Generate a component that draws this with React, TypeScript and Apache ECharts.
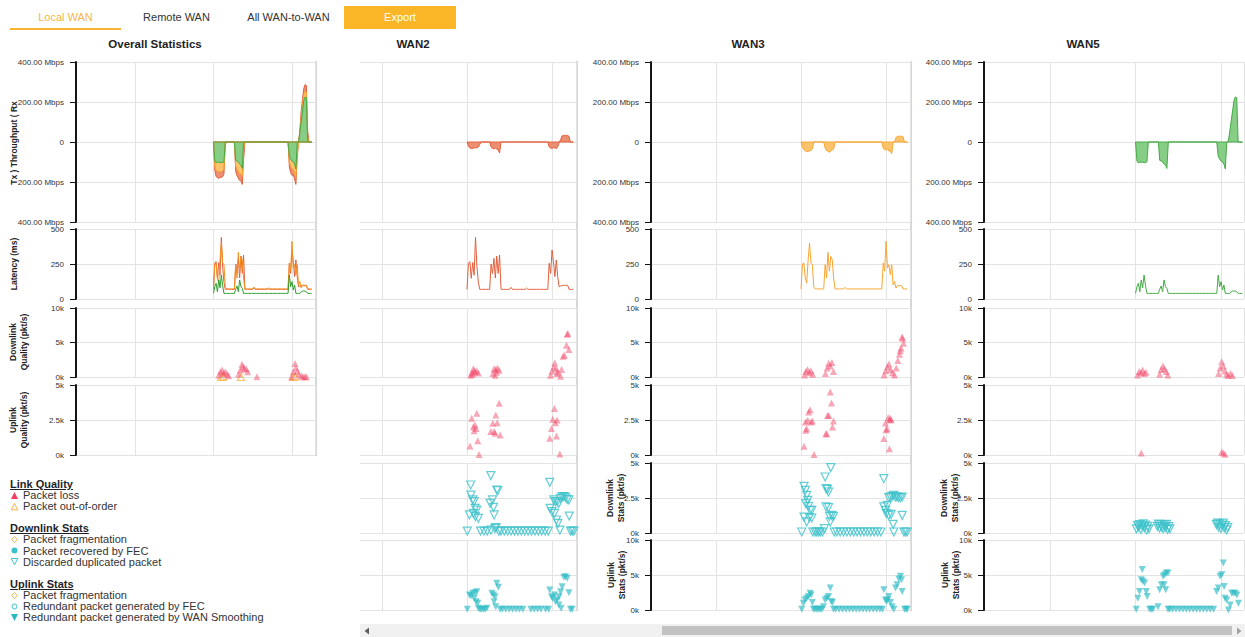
import React, { useEffect, useRef } from "react";
import * as echarts from "echarts";

const FONT = "'Liberation Sans', Arial, sans-serif";

// ---------- time axis (minutes) ----------
const minutes = [
  120, 121, 122, 123, 124, 125, 126, 127, 128, 129,
  130, 131, 132, 133, 134, 135, 136, 137, 138, 139,
  140, 141, 142, 143, 144, 145, 146, 147, 148, 149,
  150, 151, 152, 153, 154, 155, 156, 157, 158, 159,
  160, 161, 162, 163, 164, 165, 166, 167, 168, 169,
  170, 171, 172, 173, 174, 175, 176, 177, 178, 179,
  180, 181, 182, 183, 184, 185, 186, 187, 188, 189,
  190, 191, 192, 193, 194, 195,
];

// ---------- throughput (Mbps), Tx negative, Rx positive ----------
const wan2Tx = [
  0, -20, -30, -33, -32, -30, -28, -30, -25, -12,
  0, 0, 0, 0, 0, 0, 0, -25, -32, -35,
  -30, -35, -40, -55, 0, 0, 0, 0, 0, 0,
  0, 0, 0, 0, 0, 0, 0, 0, 0, 0,
  0, 0, 0, 0, 0, 0, 0, 0, 0, 0,
  0, 0, 0, 0, 0, 0, 0, 0, -25, -30,
  -32, -28, -30, -32, -25, 0, 0, 0, 0, 0,
  0, 0, 0, 0, 0, 0,
];
const wan2Rx = [
  0, 0, 0, 0, 0, 0, 0, 0, 0, 0,
  0, 0, 0, 0, 0, 0, 0, 0, 0, 0,
  0, 0, 0, 0, 0, 0, 0, 0, 0, 0,
  0, 0, 0, 0, 0, 0, 0, 0, 0, 0,
  0, 0, 0, 0, 0, 0, 0, 0, 0, 0,
  0, 0, 0, 0, 0, 0, 0, 0, 0, 0,
  0, 0, 0, 0, 0, 0, 10, 30, 33, 33,
  33, 32, 28, 0, 0, 0,
];
const wan3Tx = [
  0, -25, -38, -44, -48, -46, -45, -42, -35, 0,
  0, 0, 0, 0, 0, 0, 0, -30, -42, -45,
  -52, -44, -40, -35, 0, 0, 0, 0, 0, 0,
  0, 0, 0, 0, 0, 0, 0, 0, 0, 0,
  0, 0, 0, 0, 0, 0, 0, 0, 0, 0,
  0, 0, 0, 0, 0, 0, 0, 0, -30, -38,
  -40, -35, -45, -45, -58, 0, 0, 0, 0, 0,
  0, 0, 0, 0, 0, 0,
];
const wan3Rx = [
  0, 0, 0, 0, 0, 0, 0, 0, 0, 0,
  0, 0, 0, 0, 0, 0, 0, 0, 0, 0,
  0, 0, 0, 0, 0, 0, 0, 0, 0, 0,
  0, 0, 0, 0, 0, 0, 0, 0, 0, 0,
  0, 0, 0, 0, 0, 0, 0, 0, 0, 0,
  0, 0, 0, 0, 0, 0, 0, 0, 0, 0,
  0, 0, 0, 0, 0, 0, 0, 22, 28, 29,
  29, 28, 26, 0, 0, 0,
];
const wan5Tx = [
  0, -95, -105, -100, -103, -100, -104, -102, -100, 0,
  0, 0, 0, 0, 0, 0, 0, -92, -95, -100,
  -110, -115, -132, 0, 0, 0, 0, 0, 0, 0,
  0, 0, 0, 0, 0, 0, 0, 0, 0, 0,
  0, 0, 0, 0, 0, 0, 0, 0, 0, 0,
  0, 0, 0, 0, 0, 0, 0, 0, -70, -85,
  -95, -100, -110, -135, 0, 0, 0, 0, 0, 0,
  0, 0, 0, 0, 0, 0,
];
const wan5Rx = [
  0, 0, 0, 0, 0, 0, 0, 0, 0, 0,
  0, 0, 0, 0, 0, 0, 0, 0, 0, 0,
  0, 0, 0, 0, 0, 0, 0, 0, 0, 0,
  0, 0, 0, 0, 0, 0, 0, 0, 0, 0,
  0, 0, 0, 0, 0, 0, 0, 0, 0, 0,
  0, 0, 0, 0, 0, 0, 0, 0, 0, 0,
  0, 0, 0, 0, 0, 0, 45, 100, 150, 205,
  225, 222, 0, 0, 0, 0,
];

// ---------- latency (ms) ----------
const wan2Latency = [
  69, 255, 267, 148, 260, 170, 440, 231, 120, 69,
  69, 69, 69, 69, 69, 69, 69, 250, 183, 290,
  150, 307, 183, 314, 69, 69, 69, 69, 69, 69,
  69, 83, 69, 69, 69, 69, 69, 69, 69, 69,
  69, 69, 78, 69, 69, 69, 69, 69, 69, 69,
  69, 69, 69, 69, 69, 69, 69, 69, 255, 183,
  350, 267, 160, 279, 160, 88, 93, 95, 98, 98,
  98, 98, 69, 69, 69, 69,
];
const wan3Latency = [
  72, 250, 257, 150, 114, 280, 400, 257, 245, 85,
  72, 72, 72, 72, 72, 72, 72, 245, 150, 333,
  198, 305, 281, 150, 72, 72, 72, 72, 72, 72,
  72, 83, 72, 72, 72, 72, 72, 72, 72, 72,
  72, 72, 72, 72, 72, 72, 72, 72, 72, 72,
  72, 72, 72, 72, 72, 72, 72, 72, 257, 198,
  412, 221, 245, 174, 245, 100, 126, 78, 95, 95,
  95, 95, 72, 72, 72, 72,
];
const wan5Latency = [
  40, 88, 112, 52, 136, 80, 171, 95, 40, 40,
  40, 40, 40, 40, 40, 40, 40, 70, 93, 52,
  136, 88, 76, 40, 40, 40, 40, 40, 40, 40,
  40, 40, 40, 40, 40, 40, 40, 40, 40, 40,
  40, 40, 40, 40, 40, 40, 40, 40, 40, 40,
  40, 40, 40, 40, 40, 40, 40, 40, 171, 88,
  124, 64, 100, 40, 40, 40, 40, 50, 57, 57,
  57, 52, 40, 40, 40, 40,
];

// ---------- overall link quality (pkt/s) ----------
const overallDownLoss = [
  [124.1, 290], [125.3, 770], [126.6, 1010], [127.8, 530], [129.1, 770], [130.4, 390], [131.6, 190],
  [139.2, 390], [140.5, 1010], [141.8, 1830], [142.5, 1490], [143.5, 1250], [145.1, 1150], [146.1, 770],
  [153.2, 50], [179.7, 50], [181.0, 770], [182.3, 1970], [183.0, 1350], [184.1, 870], [185.3, 390],
  [187.3, 190], [188.6, 50], [189.9, 50], [191.1, 20],
];
const overallDownOutOfOrder = [[125.8, 0], [127.5, 40], [141.0, 0], [181.0, 0], [182.5, 40]];

// ---------- WAN2 ----------
const wan2DownLoss = [
  [122.6, 240], [123.3, 580], [124.0, 400], [124.5, 1210], [125.0, 900], [125.7, 730], [126.9, 870], [128.0, 580],
  [138.2, 490], [139.1, 1210], [139.9, 240], [140.3, 1070], [140.8, 700], [141.5, 1310], [142.7, 970],
  [178.9, 240], [180.0, 870], [181.2, 1460], [181.9, 2040], [182.9, 1210], [183.5, 500], [184.1, 730],
  [186.0, 100], [186.7, 1070], [187.8, 3010], [188.8, 3160], [190.2, 4610], [190.7, 6210], [191.2, 6310], [191.9, 3980],
];
const wan2UpLoss = [
  [122.1, 640], [123.3, 2620], [124.5, 2020], [125.0, 1740], [125.7, 2140], [126.4, 1900], [126.9, 2980], [127.6, 1020], [128.5, 30],
  [136.8, 1670], [138.2, 2260], [139.1, 1670], [139.9, 1550], [140.3, 2860], [141.3, 2310], [142.7, 3690], [143.4, 1430],
  [178.4, 1190], [179.6, 1900], [180.5, 2550], [181.7, 3330], [182.4, 2310], [183.1, 1360], [183.6, 2500], [185.5, 70],
];
const wan2DownDuplicate = [
  [120.2, 140], [121.7, 1290], [122.6, 3430], [122.8, 2710], [124.0, 2360], [124.5, 1400], [125.0, 2240], [125.7, 1760],
  [125.9, 1170], [126.9, 1640], [128.0, 1050], [129.5, 140], [131.9, 140], [134.3, 140],
  [136.3, 2120], [136.8, 4100], [136.9, 200], [138.0, 2360], [138.7, 1830], [139.1, 1290], [139.6, 330], [140.5, 380],
  [141.0, 3070], [141.7, 3020], [142.5, 140],
  [143.9, 140], [146.3, 140], [148.7, 140], [151.1, 140], [153.5, 140], [155.9, 140], [158.3, 140], [160.7, 140],
  [163.1, 140], [165.5, 140], [167.9, 140], [170.3, 140], [172.7, 140], [175.1, 140], [177.3, 140],
  [178.4, 3620], [178.6, 1760], [180.0, 1520], [181.2, 2360], [181.7, 1400], [182.4, 2240], [183.1, 930], [183.6, 2240],
  [184.1, 690], [184.8, 2120], [185.5, 210], [186.0, 2480], [187.1, 2600], [188.3, 2600], [189.5, 2550], [190.7, 2400],
  [191.9, 2360], [192.1, 1210], [193.0, 140], [194.2, 140], [195.4, 140],
];
const wan2UpSmoothing = [
  [120.2, 100], [121.7, 2140], [122.8, 2000], [124.0, 2380], [125.0, 1670], [125.7, 2480], [126.4, 1190], [126.9, 2620],
  [127.6, 950], [128.0, 240], [129.2, 100], [130.4, 100], [131.6, 100], [132.8, 100], [134.0, 240],
  [137.5, 2380], [138.7, 2140], [139.1, 1190], [139.9, 1900], [140.3, 480], [141.0, 3810], [142.2, 3240], [143.4, 100],
  [145.0, 100], [147.4, 100], [149.8, 100], [152.2, 100], [154.6, 100], [157.0, 100], [159.4, 100],
  [165.0, 100], [167.4, 100], [169.8, 100], [172.2, 100], [175.4, 100], [177.6, 100],
  [178.4, 2860], [179.6, 1900], [180.5, 1670], [181.7, 2140], [182.4, 1190], [183.6, 1430], [184.8, 710], [185.0, 1900],
  [186.0, 2620], [186.4, 240], [187.1, 3330], [188.3, 4670], [189.5, 4760], [190.7, 4520], [191.9, 2480], [193.0, 100], [194.2, 100],
];

// ---------- WAN3 ----------
const wan3DownLoss = [
  [122.5, 300], [123.4, 800], [124.6, 1100], [125.8, 600], [127.0, 900], [128.2, 400],
  [137.2, 500], [138.4, 1300], [139.5, 2000], [140.6, 1600], [141.8, 2100], [142.9, 800],
  [178.6, 300], [179.8, 900], [181.0, 1500], [182.1, 1900], [183.2, 1100], [184.5, 600],
  [186.0, 300], [187.2, 1300], [188.3, 2400], [189.5, 3300], [190.0, 3800], [190.6, 4200], [191.2, 5800], [191.8, 5600], [192.3, 4900],
];
const wan3UpLoss = [
  [122.1, 620], [123.1, 2360], [123.3, 1760], [124.0, 1880], [124.7, 2480], [125.4, 3070], [126.4, 3240], [127.1, 2360], [128.0, 2430], [129.2, 30],
  [137.5, 1520], [138.2, 1520], [138.7, 2830], [139.6, 2830], [140.6, 4500], [141.5, 3710], [142.2, 2000], [142.9, 2430],
  [178.4, 1170], [179.6, 2290], [180.0, 1810], [180.8, 1880], [181.5, 2670], [182.4, 2520], [183.1, 2600], [183.6, 2520], [182.4, 450],
];
const wan3DownDuplicate = [
  [120.5, 70], [122.1, 3330], [123.1, 3050], [124.0, 2690], [124.7, 2330], [123.3, 2100], [125.2, 1900], [126.4, 1620],
  [127.6, 1620], [122.1, 1140], [125.9, 1100], [124.0, 790], [127.6, 1070], [128.3, 70], [129.9, 70], [131.1, 70],
  [132.5, 70], [133.5, 70], [135.1, 70], [136.5, 310], [137.0, 4000], [141.0, 4670], [137.7, 3170], [138.7, 3120],
  [139.4, 2930], [137.7, 1860], [139.4, 1810], [140.1, 1190], [141.7, 1260], [142.9, 1190], [140.6, 790], [143.4, 70],
  [145.2, 70], [147.6, 70], [150.0, 70], [152.4, 70], [154.8, 70], [157.2, 70], [159.6, 70], [162.0, 70],
  [164.4, 70], [166.8, 70], [169.2, 70], [171.6, 70], [174.0, 70], [176.4, 70],
  [178.4, 3880], [178.4, 1860], [179.6, 1620], [180.3, 1380], [180.8, 1980], [181.9, 2520], [181.9, 1260], [183.1, 2570],
  [183.6, 1330], [184.3, 2620], [185.0, 620], [185.5, 70], [185.5, 2690], [186.7, 2570], [187.8, 2570], [189.0, 2520],
  [190.2, 2520], [191.4, 2570], [191.4, 1260], [192.6, 70], [193.8, 70], [194.9, 70],
];
const wan3UpSmoothing = [
  [120.5, 100], [121.7, 960], [122.8, 1440], [124.0, 1680], [125.2, 1920], [126.4, 2400], [127.1, 2160], [128.0, 1060],
  [128.7, 100], [129.9, 100], [131.1, 100], [132.3, 100], [133.5, 100], [134.7, 100], [135.8, 480], [137.0, 1440],
  [138.2, 1680], [139.4, 1920], [140.6, 3130], [141.3, 1200], [142.2, 1060], [142.9, 100],
  [144.5, 100], [146.9, 100], [149.3, 100], [151.7, 100], [154.1, 100], [156.5, 100], [158.9, 100], [161.3, 100],
  [163.7, 100], [166.1, 100], [168.5, 100], [170.9, 100], [173.3, 100], [175.7, 100], [177.5, 100],
  [178.4, 2880], [179.6, 1440], [180.3, 1200], [181.2, 1440], [181.9, 1920], [183.1, 1060], [184.3, 480], [185.5, 100],
  [186.7, 3130], [187.8, 3610], [189.0, 4420], [190.2, 4810], [190.9, 4330], [191.4, 2640], [193.0, 100], [194.2, 100], [194.9, 100],
];

// ---------- WAN5 ----------
const wan5DownLoss = [
  [121.5, 300], [122.6, 800], [123.8, 600], [125.0, 1000], [126.2, 500], [127.4, 700],
  [136.9, 400], [138.0, 1100], [139.2, 1600], [140.3, 1200], [141.5, 800], [142.6, 300],
  [178.3, 500], [179.4, 1300], [180.5, 2200], [181.6, 1600], [182.7, 900], [183.8, 400], [185.0, 200], [186.6, 500], [188.0, 200],
];
const wan5UpLoss = [[124.0, 140], [180.5, 210], [181.6, 140], [182.8, 50]];
const wan5DownDuplicate = [
  [120.6, 300], [121.4, 550], [122.2, 420], [123.0, 600], [123.8, 250], [124.6, 500], [125.4, 650], [126.2, 380],
  [127.0, 560], [127.8, 220], [128.6, 470], [129.4, 300], [135.3, 480], [136.1, 640], [136.9, 350], [137.7, 600],
  [138.5, 450], [139.3, 300], [140.1, 560], [140.9, 400], [141.7, 620], [142.5, 260], [143.3, 450], [144.1, 300],
  [176.7, 600], [177.5, 700], [178.3, 420], [179.1, 650], [179.9, 320], [180.7, 560], [181.5, 700], [182.3, 360],
  [183.1, 520], [183.9, 220], [184.7, 400],
];
const wan5UpSmoothing = [
  [120.5, 100], [121.6, 1680], [122.8, 2640], [124.0, 4330], [124.7, 5770], [125.2, 4090], [126.4, 3850], [127.5, 2640],
  [128.2, 1920], [129.9, 100], [131.1, 100], [132.2, 100], [135.8, 480], [136.9, 2890], [138.1, 3610], [139.3, 4810],
  [140.5, 5050], [141.6, 5290], [142.8, 5290], [141.2, 2890], [140.0, 3610], [142.8, 100], [144.0, 100],
  [146.0, 100], [148.4, 100], [150.8, 100], [153.2, 100], [155.6, 100], [158.0, 100], [160.4, 100], [162.8, 100],
  [165.2, 100], [167.6, 100], [170.0, 100], [172.4, 100], [174.8, 100],
  [176.9, 2640], [178.1, 3130], [179.3, 4810], [180.5, 5050], [181.6, 6730], [182.1, 3370], [182.8, 1680], [184.0, 1440],
  [185.2, 0], [186.4, 720], [187.5, 2400], [188.7, 2400], [189.9, 2400], [191.1, 2160], [192.2, 960],
];

// ---------- text ----------
const columnTitles = ["Overall Statistics", "WAN2", "WAN3", "WAN5"];
const tabs = ["Local WAN", "Remote WAN", "All WAN-to-WAN"];

// ---------- styles / layout ----------
const WAN_COLORS = {
  wan2: { line: "#e25f3c", fill: "#ec8e72" },
  wan3: { line: "#f8a632", fill: "#fbc46c" },
  wan5: { line: "#46aa46", fill: "#86cd86" },
};
const LOSS_COLOR = "rgba(240,72,104,0.6)";
const OOO_COLOR = "#f9b24c";
const CYAN = "#3dc2cb";
const GRID_COLOR = "#e3e3e3";

const ROWS = [
  { top: 62, bottom: 222 },
  { top: 229, bottom: 299 },
  { top: 308, bottom: 377 },
  { top: 385, bottom: 455 },
  { top: 463, bottom: 533 },
  { top: 540, bottom: 610 },
];
const kFmt = (v: number) => v / 1000 + "k";
const Y_AXES = [
  { min: -400, max: 400, interval: 200, fmt: (v: number) => (v === 0 ? "0" : Math.abs(v).toFixed(2) + " Mbps") },
  { min: 0, max: 500, interval: 250, fmt: (v: number) => String(v) },
  { min: 0, max: 10000, interval: 5000, fmt: kFmt },
  { min: 0, max: 5000, interval: 2500, fmt: kFmt },
  { min: 0, max: 5000, interval: 2500, fmt: kFmt },
  { min: 0, max: 10000, interval: 5000, fmt: kFmt },
];
const COLS = [
  { left: 76, right: 315, xMin: 14.9, xMax: 197.6, rows: 4, axis: true },
  { left: 360, right: 576, xMin: 44.5, xMax: 196.9, rows: 6, axis: false },
  { left: 651, right: 910, xMin: 14.1, xMax: 196.9, rows: 6, axis: true },
  { left: 984, right: 1244, xMin: 13.7, xMax: 196.1, rows: 6, axis: true },
];

// element-wise sum of several series (cumulative totals for the overall panel)
const sumOf = (...arrs: number[][]) => arrs[0].map((_, i) => arrs.reduce((s, a) => s + a[i], 0));

function buildOption() {
  const grid: any[] = [];
  const xAxis: any[] = [];
  const yAxis: any[] = [];
  const series: any[] = [];
  const idx: Record<string, number> = {};

  COLS.forEach((col, ci) => {
    for (let r = 0; r < col.rows; r++) {
      const row = ROWS[r];
      const gi = grid.length;
      idx[ci + "-" + r] = gi;
      grid.push({
        left: col.left, top: row.top, width: col.right - col.left, height: row.bottom - row.top,
        containLabel: false, outerBoundsMode: "none",
      });
      xAxis.push({
        gridIndex: gi, type: "value", min: col.xMin, max: col.xMax, minInterval: 60, maxInterval: 60,
        axisLine: { show: false }, axisTick: { show: false }, axisLabel: { show: false },
        splitLine: { show: true, showMinLine: col.axis, lineStyle: { color: GRID_COLOR, width: 1 } },
      });
      const ya = Y_AXES[r];
      yAxis.push({
        gridIndex: gi, type: "value", min: ya.min, max: ya.max, interval: ya.interval,
        axisLine: { show: col.axis, lineStyle: { color: "#151515", width: 2 } },
        axisTick: { show: col.axis, length: 6, lineStyle: { color: "#151515", width: 1 } },
        axisLabel: { show: col.axis, formatter: ya.fmt, margin: 12, fontSize: 8, color: "#333", fontFamily: FONT },
        splitLine: { show: true, lineStyle: { color: GRID_COLOR, width: 1 } },
      });
    }
  });

  const add = (ci: number, r: number, s: any) => {
    const gi = idx[ci + "-" + r];
    series.push({ silent: true, ...s, xAxisIndex: gi, yAxisIndex: gi });
  };
  const lineData = (vals: number[]) => minutes.map((m, i) => [m, vals[i]]);
  const area = (vals: number[], c: { line: string; fill: string }) => ({
    type: "line", data: lineData(vals), showSymbol: false,
    lineStyle: { color: c.line, width: 1 }, itemStyle: { color: c.line },
    areaStyle: { color: c.fill, opacity: 1 },
  });
  const line = (vals: number[], color: string) => ({
    type: "line", data: lineData(vals), showSymbol: false,
    lineStyle: { color, width: 1 }, itemStyle: { color },
  });
  const lossScatter = (data: number[][]) => ({
    type: "scatter", data, symbol: "triangle", symbolSize: 7, itemStyle: { color: LOSS_COLOR },
  });
  const oooScatter = (data: number[][]) => ({
    type: "scatter", data, symbol: "triangle", symbolSize: 7,
    itemStyle: { color: "rgba(255,255,255,0)", borderColor: OOO_COLOR, borderWidth: 1.2 },
  });
  const dupScatter = (data: number[][]) => ({
    type: "scatter", data, symbol: "triangle", symbolRotate: 180, symbolSize: 8,
    itemStyle: { color: "rgba(255,255,255,0)", borderColor: CYAN, borderWidth: 1.2 },
  });
  const smoothScatter = (data: number[][]) => ({
    type: "scatter", data, symbol: "triangle", symbolRotate: 180, symbolSize: 7,
    itemStyle: { color: "rgba(50,188,198,0.85)" },
  });

  // Overall column: stacked totals drawn as layered areas (largest total first)
  add(0, 0, area(sumOf(wan5Tx, wan3Tx, wan2Tx), WAN_COLORS.wan2));
  add(0, 0, area(sumOf(wan5Tx, wan3Tx), WAN_COLORS.wan3));
  add(0, 0, area(wan5Tx, WAN_COLORS.wan5));
  add(0, 0, area(sumOf(wan5Rx, wan3Rx, wan2Rx), WAN_COLORS.wan2));
  add(0, 0, area(sumOf(wan5Rx, wan3Rx), WAN_COLORS.wan3));
  add(0, 0, area(wan5Rx, WAN_COLORS.wan5));
  add(0, 1, line(wan2Latency, WAN_COLORS.wan2.line));
  add(0, 1, line(wan3Latency, "#f59120"));
  add(0, 1, line(wan5Latency, "#2f9e2f"));
  add(0, 2, oooScatter(overallDownOutOfOrder));
  add(0, 2, lossScatter(overallDownLoss));

  const wans = [
    { c: WAN_COLORS.wan2, tx: wan2Tx, rx: wan2Rx, lat: wan2Latency, dq: wan2DownLoss, uq: wan2UpLoss, ds: wan2DownDuplicate, us: wan2UpSmoothing },
    { c: WAN_COLORS.wan3, tx: wan3Tx, rx: wan3Rx, lat: wan3Latency, dq: wan3DownLoss, uq: wan3UpLoss, ds: wan3DownDuplicate, us: wan3UpSmoothing },
    { c: WAN_COLORS.wan5, tx: wan5Tx, rx: wan5Rx, lat: wan5Latency, dq: wan5DownLoss, uq: wan5UpLoss, ds: wan5DownDuplicate, us: wan5UpSmoothing },
  ];
  wans.forEach((w, k) => {
    const ci = k + 1;
    add(ci, 0, area(w.tx, w.c));
    add(ci, 0, area(w.rx, w.c));
    add(ci, 1, line(w.lat, w.c.line));
    add(ci, 2, lossScatter(w.dq));
    add(ci, 3, lossScatter(w.uq));
    add(ci, 4, dupScatter(w.ds));
    add(ci, 5, smoothScatter(w.us));
  });

  // graphic: titles, axis names, right borders
  const titleX = [155, 413, 748, 1083];
  const elements: any[] = [];
  columnTitles.forEach((t, i) => {
    elements.push({
      type: "text", x: titleX[i], y: 44, silent: true,
      style: { text: t, fill: "#1e1e1e", font: "bold 11.5px " + FONT, align: "center", verticalAlign: "middle" },
    });
  });
  const names = [
    { text: "Tx ) Throughput ( Rx", x: 13.5, y: 143 },
    { text: "Latency (ms)", x: 14, y: 264 },
    { text: "Downlink\nQuality (pkt/s)", x: 18.5, y: 342 },
    { text: "Uplink\nQuality (pkt/s)", x: 18.5, y: 420 },
    { text: "Downlink\nStats (pkt/s)", x: 615, y: 498 },
    { text: "Uplink\nStats (pkt/s)", x: 616, y: 575 },
    { text: "Downlink\nStats (pkt/s)", x: 949, y: 498 },
    { text: "Uplink\nStats (pkt/s)", x: 950, y: 575 },
  ];
  names.forEach((n) => {
    elements.push({
      type: "text", x: n.x, y: n.y, rotation: Math.PI / 2, silent: true,
      style: { text: n.text, fill: "#222", font: "bold 8.5px " + FONT, align: "center", verticalAlign: "middle", lineHeight: 11 },
    });
  });
  const borders = [
    { x: 315, y1: 61, y2: 456 },
    { x: 576, y1: 61, y2: 611 },
    { x: 910, y1: 61, y2: 611 },
  ];
  borders.forEach((b) => {
    elements.push({ type: "rect", silent: true, shape: { x: b.x, y: b.y1, width: 2, height: b.y2 - b.y1 }, style: { fill: "#d7d7d7" } });
  });

  return { animation: false, grid, xAxis, yAxis, series, graphic: { elements } };
}

function Icon({ kind }: { kind: string }) {
  const common = { width: 9, height: 9, style: { display: "inline-block", verticalAlign: "middle", marginRight: 4, marginTop: -2 } as any };
  if (kind === "lossUp") return <svg {...common}><polygon points="4.5,1 8,8 1,8" fill="#ef3f63" /></svg>;
  if (kind === "oooUp") return <svg {...common}><polygon points="4.5,1.5 7.8,7.8 1.2,7.8" fill="none" stroke="#f9b24c" strokeWidth="1" /></svg>;
  if (kind === "diamond") return <svg {...common}><polygon points="4.5,1.5 7.5,4.5 4.5,7.5 1.5,4.5" fill="none" stroke="#f9b24c" strokeWidth="1" /></svg>;
  if (kind === "dot") return <svg {...common}><circle cx="4.5" cy="4.5" r="3" fill={CYAN} /></svg>;
  if (kind === "dupDown") return <svg {...common}><polygon points="1.2,1.5 7.8,1.5 4.5,7.8" fill="none" stroke={CYAN} strokeWidth="1" /></svg>;
  if (kind === "ring") return <svg {...common}><circle cx="4.5" cy="4.5" r="2.5" fill="none" stroke={CYAN} strokeWidth="1" /></svg>;
  return <svg {...common}><polygon points="1,1 8,1 4.5,8" fill="#2bb7c2" /></svg>;
}

const legendGroups = [
  { title: "Link Quality", items: [["lossUp", "Packet loss"], ["oooUp", "Packet out-of-order"]] },
  { title: "Downlink Stats", items: [["diamond", "Packet fragmentation"], ["dot", "Packet recovered by FEC"], ["dupDown", "Discarded duplicated packet"]] },
  { title: "Uplink Stats", items: [["diamond", "Packet fragmentation"], ["ring", "Redundant packet generated by FEC"], ["smoothDown", "Redundant packet generated by WAN Smoothing"]] },
];

export default function App() {
  const ref = useRef<HTMLDivElement>(null);
  useEffect(() => {
    if (!ref.current) return;
    const chart = echarts.init(ref.current, undefined, { renderer: "svg" });
    chart.setOption(buildOption() as any);
    return () => chart.dispose();
  }, []);

  const tabLeft = [10, 121, 233];
  return (
    <div style={{ position: "absolute", left: 0, top: 0, width: 1245, height: 637, overflow: "hidden", background: "#fff", fontFamily: FONT }}>
      <div ref={ref} style={{ position: "absolute", left: 0, top: 0, width: 1245, height: 637 }} />
      {tabs.map((t, i) => (
        <div key={t} style={{ position: "absolute", left: tabLeft[i], top: 10, width: 111, textAlign: "center", fontSize: 11, lineHeight: "14px", color: i === 0 ? "#f6b548" : "#333" }}>{t}</div>
      ))}
      <div style={{ position: "absolute", left: 10, top: 28, width: 111, height: 2, background: "#f8b434" }} />
      <div style={{ position: "absolute", left: 344, top: 6, width: 112, height: 23, background: "#fbb627", color: "#fff", fontSize: 11, lineHeight: "23px", textAlign: "center" }}>Export</div>

      <div style={{ position: "absolute", left: 10, top: 479, fontSize: 11, lineHeight: "11.1px", color: "#333" }}>
        {legendGroups.map((g, gi) => (
          <div key={g.title} style={{ marginBottom: gi < legendGroups.length - 1 ? 11.1 : 0 }}>
            <div style={{ fontWeight: "bold", textDecoration: "underline", color: "#1f1f2a" }}>{g.title}</div>
            {g.items.map(([k, label]) => (
              <div key={label + k} style={{ whiteSpace: "nowrap" }}>
                <Icon kind={k} />{label}
              </div>
            ))}
          </div>
        ))}
      </div>

      <div style={{ position: "absolute", left: 360, top: 624, width: 885, height: 13, background: "#f1f1f1" }} />
      <div style={{ position: "absolute", left: 662, top: 626, width: 570, height: 9, background: "#c2c2c2" }} />
      <svg style={{ position: "absolute", left: 363, top: 627 }} width="7" height="8"><polygon points="6,0.5 6,7.5 1.5,4" fill="#606060" /></svg>
      <svg style={{ position: "absolute", left: 1236, top: 627 }} width="7" height="8"><polygon points="1,0.5 1,7.5 5.5,4" fill="#a0a0a0" /></svg>
    </div>
  );
}
